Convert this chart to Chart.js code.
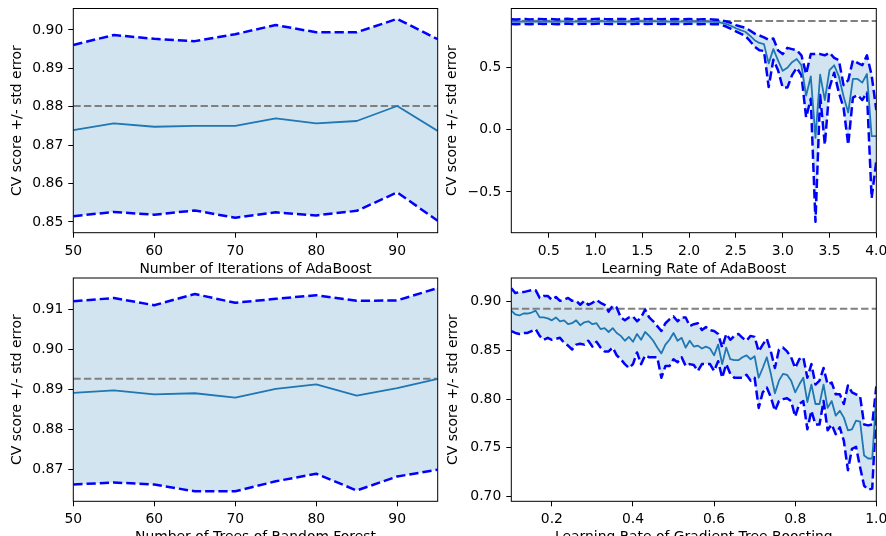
<!DOCTYPE html>
<html>
<head>
<meta charset="utf-8">
<script src="https://cdn.jsdelivr.net/npm/chart.js@4.4.0/dist/chart.umd.min.js"></script>
<style>
    html, body { margin: 0; padding: 0; background: #fff; overflow: hidden; width: 886px; height: 536px; }
    .panel { position: absolute; width: 443px; height: 290px; }
</style>
</head>
<body>
<div class="panel" style="left:0;top:0"><canvas id="adaIterChart" width="443" height="290"></canvas></div>
<div class="panel" style="left:443px;top:0"><canvas id="adaRateChart" width="443" height="290"></canvas></div>
<div class="panel" style="left:0;top:268px"><canvas id="rfTreesChart" width="443" height="290"></canvas></div>
<div class="panel" style="left:443px;top:268px"><canvas id="gbRateChart" width="443" height="290"></canvas></div>

<script>
// --- AdaBoost: number of iterations ---
const iterCounts = [50, 55, 60, 65, 70, 75, 80, 85, 90, 95];
const adaIterMean  = [0.8739, 0.8757, 0.8748, 0.8750, 0.8750, 0.8770, 0.8757, 0.8763, 0.8802, 0.8737];
const adaIterUpper = [0.8961, 0.8987, 0.8977, 0.8971, 0.8989, 0.9013, 0.8994, 0.8994, 0.9029, 0.8976];
const adaIterLower = [0.8515, 0.8526, 0.8519, 0.8530, 0.8511, 0.8525, 0.8517, 0.8529, 0.8577, 0.8503];
const adaIterBest = 0.8802;

// --- AdaBoost: learning rate ---
const adaRates = [
    0.10, 0.15, 0.20, 0.25, 0.30, 0.35, 0.40, 0.45, 0.50, 0.55,
    0.60, 0.65, 0.70, 0.75, 0.80, 0.85, 0.90, 0.95, 1.00, 1.05,
    1.10, 1.15, 1.20, 1.25, 1.30, 1.35, 1.40, 1.45, 1.50, 1.55,
    1.60, 1.65, 1.70, 1.75, 1.80, 1.85, 1.90, 1.95, 2.00, 2.05,
    2.10, 2.15, 2.20, 2.25, 2.30, 2.35, 2.40, 2.45, 2.50, 2.55,
    2.60, 2.65, 2.70, 2.75, 2.80, 2.85, 2.90, 2.95, 3.00, 3.05,
    3.10, 3.15, 3.20, 3.25, 3.30, 3.35, 3.40, 3.45, 3.50, 3.55,
    3.60, 3.65, 3.70, 3.75, 3.80, 3.85, 3.90, 3.95, 4.00
];
const adaRateMean = [
    0.872, 0.870, 0.871, 0.873, 0.870, 0.872, 0.874, 0.871, 0.873, 0.872,
    0.870, 0.873, 0.875, 0.872, 0.871, 0.874, 0.873, 0.872, 0.874, 0.876,
    0.873, 0.871, 0.872, 0.874, 0.873, 0.871, 0.872, 0.875, 0.873, 0.872,
    0.874, 0.873, 0.871, 0.873, 0.872, 0.874, 0.872, 0.871, 0.873, 0.872,
    0.870, 0.871, 0.872, 0.870, 0.869, 0.862, 0.851, 0.836, 0.818, 0.803,
    0.790, 0.758, 0.722, 0.700, 0.690, 0.535, 0.650, 0.560, 0.475, 0.500,
    0.545, 0.570, 0.520, 0.275, 0.430, -0.065, 0.445, 0.240, 0.480, 0.520,
    0.430, 0.270, 0.140, 0.410, 0.410, 0.380, 0.450, -0.050, -0.050
];
const adaRateUpper = [
    0.891, 0.889, 0.890, 0.893, 0.889, 0.891, 0.893, 0.890, 0.892, 0.891,
    0.889, 0.892, 0.894, 0.891, 0.890, 0.893, 0.892, 0.891, 0.893, 0.895,
    0.892, 0.890, 0.891, 0.893, 0.892, 0.890, 0.891, 0.894, 0.892, 0.891,
    0.893, 0.892, 0.890, 0.892, 0.891, 0.893, 0.891, 0.890, 0.892, 0.891,
    0.889, 0.890, 0.891, 0.889, 0.886, 0.880, 0.872, 0.860, 0.843, 0.832,
    0.822, 0.800, 0.775, 0.760, 0.745, 0.725, 0.735, 0.640, 0.610, 0.660,
    0.650, 0.640, 0.600, 0.450, 0.610, 0.610, 0.610, 0.600, 0.620, 0.580,
    0.560, 0.360, 0.400, 0.560, 0.540, 0.520, 0.600, 0.440, 0.160
];
const adaRateLower = [
    0.853, 0.851, 0.852, 0.853, 0.851, 0.853, 0.855, 0.852, 0.854, 0.853,
    0.851, 0.854, 0.856, 0.853, 0.852, 0.855, 0.854, 0.853, 0.855, 0.857,
    0.854, 0.852, 0.853, 0.855, 0.854, 0.852, 0.853, 0.856, 0.854, 0.853,
    0.855, 0.854, 0.852, 0.854, 0.853, 0.855, 0.853, 0.852, 0.854, 0.853,
    0.851, 0.852, 0.853, 0.851, 0.852, 0.845, 0.830, 0.812, 0.793, 0.774,
    0.758, 0.716, 0.669, 0.640, 0.635, 0.345, 0.565, 0.480, 0.340, 0.340,
    0.440, 0.500, 0.440, 0.100, 0.250, -0.740, 0.280, -0.120, 0.340, 0.460,
    0.300, 0.180, -0.120, 0.260, 0.280, 0.240, 0.300, -0.550, -0.250
];
const adaRateBest = 0.876;

// --- Random forest: number of trees ---
const treeCounts = [50, 55, 60, 65, 70, 75, 80, 85, 90, 95];
const rfMean  = [0.8892, 0.8898, 0.8888, 0.8891, 0.8880, 0.8902, 0.8913, 0.8885, 0.8904, 0.8927];
const rfUpper = [0.9121, 0.9129, 0.9111, 0.9139, 0.9117, 0.9127, 0.9136, 0.9122, 0.9123, 0.9154];
const rfLower = [0.8663, 0.8668, 0.8663, 0.8646, 0.8646, 0.8671, 0.8690, 0.8648, 0.8683, 0.8700];
const rfBest = 0.8927;

// --- Gradient tree boosting: learning rate ---
const gbRates = [
    0.10, 0.11, 0.12, 0.13, 0.14, 0.15, 0.16, 0.17, 0.18, 0.19,
    0.20, 0.21, 0.22, 0.23, 0.24, 0.25, 0.26, 0.27, 0.28, 0.29,
    0.30, 0.31, 0.32, 0.33, 0.34, 0.35, 0.36, 0.37, 0.38, 0.39,
    0.40, 0.41, 0.42, 0.43, 0.44, 0.45, 0.46, 0.47, 0.48, 0.49,
    0.50, 0.51, 0.52, 0.53, 0.54, 0.55, 0.56, 0.57, 0.58, 0.59,
    0.60, 0.61, 0.62, 0.63, 0.64, 0.65, 0.66, 0.67, 0.68, 0.69,
    0.70, 0.71, 0.72, 0.73, 0.74, 0.75, 0.76, 0.77, 0.78, 0.79,
    0.80, 0.81, 0.82, 0.83, 0.84, 0.85, 0.86, 0.87, 0.88, 0.89,
    0.90, 0.91, 0.92, 0.93, 0.94, 0.95, 0.96, 0.97, 0.98, 0.99,
    1.00
];
const gbMean = [
    0.891, 0.887, 0.886, 0.888, 0.888, 0.889, 0.891, 0.884, 0.884, 0.883,
    0.881, 0.884, 0.880, 0.881, 0.877, 0.878, 0.881, 0.876, 0.879, 0.880,
    0.877, 0.878, 0.872, 0.873, 0.869, 0.873, 0.868, 0.865, 0.860, 0.864,
    0.859, 0.867, 0.861, 0.869, 0.865, 0.860, 0.853, 0.847, 0.856, 0.861,
    0.868, 0.860, 0.863, 0.853, 0.860, 0.854, 0.855, 0.852, 0.854, 0.852,
    0.845, 0.856, 0.836, 0.853, 0.841, 0.840, 0.840, 0.843, 0.845, 0.841,
    0.844, 0.822, 0.832, 0.843, 0.826, 0.806, 0.819, 0.826, 0.825, 0.819,
    0.807, 0.815, 0.822, 0.797, 0.815, 0.795, 0.795, 0.815, 0.791, 0.798,
    0.783, 0.788, 0.781, 0.768, 0.769, 0.778, 0.777, 0.742, 0.739, 0.739,
    0.802
];
const gbUpper = [
    0.914, 0.909, 0.910, 0.910, 0.911, 0.912, 0.912, 0.904, 0.906, 0.906,
    0.902, 0.905, 0.901, 0.902, 0.904, 0.901, 0.901, 0.897, 0.901, 0.897,
    0.899, 0.902, 0.899, 0.897, 0.890, 0.896, 0.894, 0.884, 0.881, 0.884,
    0.885, 0.880, 0.884, 0.892, 0.884, 0.880, 0.875, 0.870, 0.878, 0.882,
    0.885, 0.880, 0.884, 0.884, 0.875, 0.877, 0.878, 0.871, 0.874, 0.871,
    0.870, 0.867, 0.853, 0.867, 0.861, 0.865, 0.867, 0.863, 0.860, 0.865,
    0.864, 0.849, 0.856, 0.862, 0.849, 0.832, 0.851, 0.853, 0.849, 0.843,
    0.832, 0.841, 0.843, 0.822, 0.836, 0.815, 0.819, 0.832, 0.815, 0.817,
    0.805, 0.805, 0.795, 0.814, 0.807, 0.805, 0.803, 0.774, 0.773, 0.774,
    0.813
];
const gbLower = [
    0.870, 0.868, 0.867, 0.868, 0.868, 0.870, 0.872, 0.865, 0.861, 0.863,
    0.861, 0.862, 0.863, 0.858, 0.855, 0.851, 0.856, 0.857, 0.856, 0.860,
    0.854, 0.859, 0.853, 0.849, 0.849, 0.853, 0.845, 0.841, 0.836, 0.832,
    0.836, 0.848, 0.836, 0.845, 0.843, 0.843, 0.843, 0.822, 0.834, 0.834,
    0.841, 0.838, 0.843, 0.834, 0.836, 0.835, 0.829, 0.836, 0.836, 0.836,
    0.829, 0.839, 0.822, 0.836, 0.826, 0.822, 0.822, 0.822, 0.825, 0.819,
    0.822, 0.791, 0.807, 0.812, 0.802, 0.788, 0.798, 0.800, 0.801, 0.798,
    0.782, 0.795, 0.798, 0.769, 0.788, 0.774, 0.774, 0.798, 0.768, 0.774,
    0.764, 0.771, 0.757, 0.727, 0.749, 0.751, 0.730, 0.711, 0.707, 0.708,
    0.791
];
const gbBest = 0.893;

// tick positions
const countTicks = [50, 60, 70, 80, 90];
const adaIterYTicks = [0.85, 0.86, 0.87, 0.88, 0.89, 0.90];
const adaRateXTicks = [0.5, 1.0, 1.5, 2.0, 2.5, 3.0, 3.5, 4.0];
const adaRateYTicks = [-0.5, 0.0, 0.5];
const rfYTicks = [0.87, 0.88, 0.89, 0.90, 0.91];
const gbXTicks = [0.2, 0.4, 0.6, 0.8, 1.0];
const gbYTicks = [0.70, 0.75, 0.80, 0.85, 0.90];

const Y_TITLE = 'CV score +/- std error';
const PLOT_FONT = { family: 'DejaVu Sans', size: 13.9, lineHeight: 1.2 };
const BAND_FILL = 'rgba(31, 119, 180, 0.2)';

function fmtTick(value, digits) {
    return value.toFixed(digits).replace('-', '\u2212');
}

function toPoints(xs, ys) {
    return xs.map((x, i) => ({ x: x, y: ys[i] }));
}

// matplotlib-style box around the axes
const axesFrame = {
    id: 'axesFrame',
    afterDatasetsDraw(chart) {
        const { ctx, chartArea: a } = chart;
        ctx.save();
        ctx.strokeStyle = '#000';
        ctx.lineWidth = 1;
        ctx.strokeRect(a.left, a.top, a.right - a.left, a.bottom - a.top);
        ctx.restore();
    }
};

function drawCvPanel(canvasId, cfg) {
    const xMin = cfg.x[0];
    const xMax = cfg.x[cfg.x.length - 1];
    const dashed = { borderColor: '#0000ff', borderWidth: 2.5, borderDash: [9.25, 4] };

    const axisCommon = {
        type: 'linear',
        bounds: 'data',
        grid: { drawOnChartArea: false, drawTicks: true, tickLength: 5, color: '#000', lineWidth: 1 },
        border: { display: false }
    };

    return new Chart(document.getElementById(canvasId), {
        type: 'line',
        data: {
            datasets: [
                { data: toPoints(cfg.x, cfg.mean), borderColor: '#1f77b4', borderWidth: 1.8 },
                { data: toPoints(cfg.x, cfg.upper), ...dashed, fill: '+1', backgroundColor: BAND_FILL },
                { data: toPoints(cfg.x, cfg.lower), ...dashed },
                {
                    data: [{ x: xMin, y: cfg.best }, { x: xMax, y: cfg.best }],
                    borderColor: '#808080', borderWidth: 2, borderDash: [7.4, 3.2]
                }
            ]
        },
        options: {
            responsive: false,
            animation: false,
            devicePixelRatio: 1,
            layout: { padding: { left: 0, top: cfg.top, right: cfg.right, bottom: 0 } },
            elements: {
                point: { radius: 0 },
                line: { tension: 0, borderJoinStyle: 'round', fill: false }
            },
            plugins: {
                legend: { display: false },
                tooltip: { enabled: false },
                filler: { drawTime: 'beforeDatasetsDraw' }
            },
            scales: {
                x: {
                    ...axisCommon,
                    min: xMin,
                    max: xMax,
                    afterBuildTicks: (s) => { s.ticks = cfg.xTicks.map(v => ({ value: v })); },
                    afterFit: (s) => { s.height = cfg.xHeight; s.paddingLeft = 0; s.paddingRight = 0; },
                    ticks: {
                        font: PLOT_FONT, color: '#000', padding: 5, autoSkip: false, maxRotation: 0,
                        callback: (v) => fmtTick(v, cfg.xDigits)
                    },
                    title: {
                        display: true, text: cfg.xTitle, font: PLOT_FONT, color: '#000',
                        padding: { top: 0, bottom: 12.7 }
                    }
                },
                y: {
                    ...axisCommon,
                    min: cfg.yLim[0],
                    max: cfg.yLim[1],
                    afterBuildTicks: (s) => { s.ticks = cfg.yTicks.map(v => ({ value: v })); },
                    afterFit: (s) => { s.width = cfg.yWidth; s.paddingTop = 0; s.paddingBottom = 0; },
                    ticks: {
                        font: PLOT_FONT, color: '#000', padding: 5, autoSkip: false,
                        callback: (v) => fmtTick(v, cfg.yDigits)
                    },
                    title: {
                        display: true, text: Y_TITLE, font: PLOT_FONT, color: '#000',
                        padding: { top: cfg.yTitlePad, bottom: 0 }
                    }
                }
            }
        },
        plugins: [axesFrame]
    });
}

drawCvPanel('adaIterChart', {
    x: iterCounts, mean: adaIterMean, upper: adaIterUpper, lower: adaIterLower, best: adaIterBest,
    xTicks: countTicks, yTicks: adaIterYTicks, xDigits: 0, yDigits: 2,
    yLim: [0.8472, 0.9056],
    xTitle: 'Number of Iterations of AdaBoost',
    top: 8.5, right: 5.3, yWidth: 73.3, xHeight: 57.3, yTitlePad: 9.2
});

drawCvPanel('adaRateChart', {
    x: adaRates, mean: adaRateMean, upper: adaRateUpper, lower: adaRateLower, best: adaRateBest,
    xTicks: adaRateXTicks, yTicks: adaRateYTicks, xDigits: 1, yDigits: 1,
    yLim: [-0.828, 0.977],
    xTitle: 'Learning Rate of AdaBoost',
    top: 8.5, right: 9.7, yWidth: 68.3, xHeight: 57.3, yTitlePad: 0.8
});

drawCvPanel('rfTreesChart', {
    x: treeCounts, mean: rfMean, upper: rfUpper, lower: rfLower, best: rfBest,
    xTicks: countTicks, yTicks: rfYTicks, xDigits: 0, yDigits: 2,
    yLim: [0.8621, 0.9179],
    xTitle: 'Number of Trees of Random Forest',
    top: 10, right: 5.3, yWidth: 73.3, xHeight: 56.7, yTitlePad: 9.2
});

drawCvPanel('gbRateChart', {
    x: gbRates, mean: gbMean, upper: gbUpper, lower: gbLower, best: gbBest,
    xTicks: gbXTicks, yTicks: gbYTicks, xDigits: 1, yDigits: 2,
    yLim: [0.6950, 0.9245],
    xTitle: 'Learning Rate of Gradient Tree Boosting',
    top: 10, right: 9.7, yWidth: 68.3, xHeight: 56.7, yTitlePad: 2.5
});
</script>
</body>
</html>
